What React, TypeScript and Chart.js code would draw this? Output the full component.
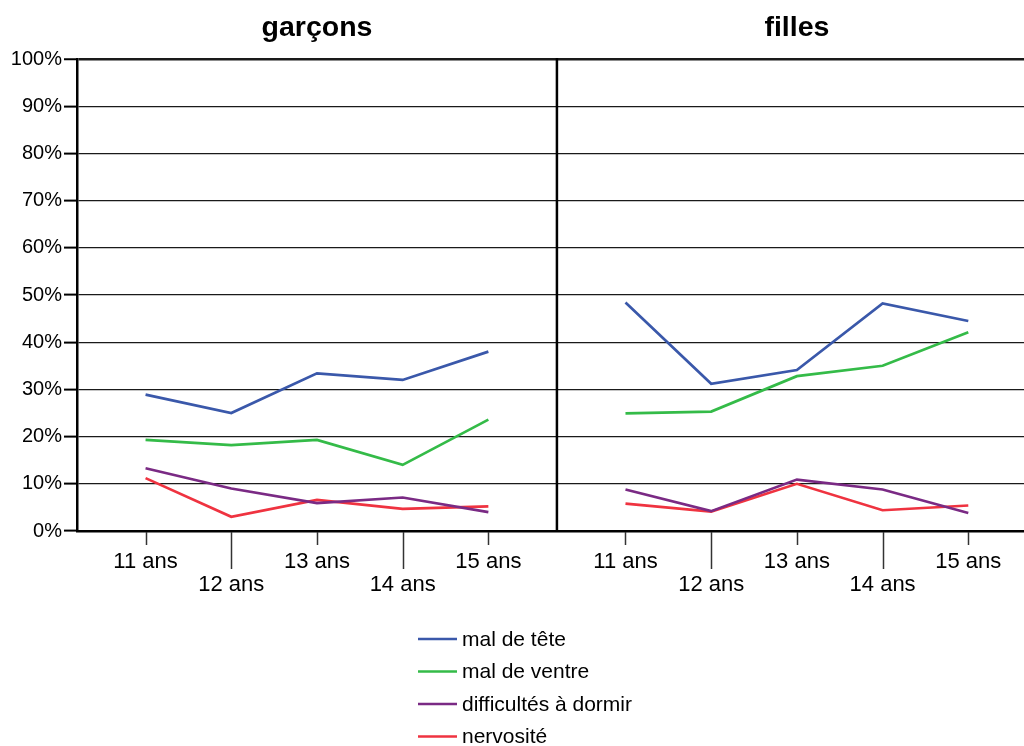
import React, { useEffect, useRef } from "react";
import { Chart, registerables } from "chart.js";

Chart.register(...registerables);

const categories = ["11 ans", "12 ans", "13 ans", "14 ans", "15 ans"];
const panelTitles = ["garçons", "filles"];
const seriesNames = ["mal de tête", "mal de ventre", "difficultés à dormir", "nervosité"];
const seriesColors = ["#3a58aa", "#34bb48", "#7a2a84", "#ef3340"];

const garconsMalDeTete = [28.9, 25.0, 33.4, 32.0, 38.0];
const garconsMalDeVentre = [19.3, 18.2, 19.3, 14.0, 23.6];
const garconsDormir = [13.3, 9.0, 5.9, 7.1, 4.0];
const garconsNervosite = [11.2, 3.0, 6.6, 4.7, 5.2];

const fillesMalDeTete = [48.4, 31.2, 34.1, 48.2, 44.5];
const fillesMalDeVentre = [24.9, 25.3, 32.8, 35.0, 42.1];
const fillesDormir = [8.8, 4.2, 10.9, 8.8, 3.8];
const fillesNervosite = [5.8, 4.1, 10.0, 4.4, 5.4];

const garconsSeries = [garconsMalDeTete, garconsMalDeVentre, garconsDormir, garconsNervosite];
const fillesSeries = [fillesMalDeTete, fillesMalDeVentre, fillesDormir, fillesNervosite];

// layout of the two panels on one linear x scale
const PANEL_MIN = -0.8;
const PANEL_DIVIDER = 4.8;
const RIGHT_START = 5.6;
const X_MAX = 10.25;

const FONT = '"Liberation Sans", Arial, Helvetica, sans-serif';

const tickPositions = [
  ...categories.map((_, i) => i),
  ...categories.map((_, i) => RIGHT_START + i),
];

const panelPlugin = {
  id: "panelPlugin",
  afterDraw(chart: any) {
    const { ctx, chartArea, scales } = chart;
    const x = scales.x;
    ctx.save();
    // divider between panels
    const dx = x.getPixelForValue(PANEL_DIVIDER);
    ctx.strokeStyle = "#000";
    ctx.lineWidth = 2.5;
    ctx.beginPath();
    ctx.moveTo(dx, chartArea.top - 1);
    ctx.lineTo(dx, chartArea.bottom);
    ctx.stroke();

    // tick marks for staggered labels
    ctx.strokeStyle = "#333";
    ctx.lineWidth = 1.5;
    x.ticks.forEach((t: any, i: number) => {
      const ci = i % categories.length;
      const px = Math.round(x.getPixelForValue(t.value)) + 0.5;
      const len = ci % 2 === 1 ? 38 : 14;
      ctx.beginPath();
      ctx.moveTo(px, chartArea.bottom + 1);
      ctx.lineTo(px, chartArea.bottom + len);
      ctx.stroke();
    });

    // panel titles
    ctx.fillStyle = "#000";
    ctx.font = `bold 28.5px ${FONT}`;
    ctx.textAlign = "center";
    ctx.textBaseline = "middle";
    const centers = [2, RIGHT_START + 2];
    panelTitles.forEach((t, i) => {
      ctx.fillText(t, x.getPixelForValue(centers[i]), 28);
    });

    // legend (vertical list)
    ctx.font = `21px ${FONT}`;
    ctx.textAlign = "left";
    ctx.textBaseline = "middle";
    chart.data.datasets.forEach((ds: any, i: number) => {
      const y = 639 + i * 32.5;
      ctx.strokeStyle = ds.borderColor;
      ctx.lineWidth = 2.5;
      ctx.beginPath();
      ctx.moveTo(418, y);
      ctx.lineTo(457, y);
      ctx.stroke();
      ctx.fillStyle = "#000";
      ctx.fillText(ds.label, 462, y + 1);
    });
    ctx.restore();
  },
};

export default function App() {
  const canvasRef = useRef<HTMLCanvasElement | null>(null);

  useEffect(() => {
    if (!canvasRef.current) return;
    const datasets = seriesNames.map((name, s) => ({
      label: name,
      borderColor: seriesColors[s],
      backgroundColor: seriesColors[s],
      borderWidth: 2.7,
      pointRadius: 0,
      spanGaps: false,
      data: [
        ...categories.map((_, i) => ({ x: i, y: garconsSeries[s][i] })),
        { x: PANEL_DIVIDER, y: null },
        ...categories.map((_, i) => ({ x: RIGHT_START + i, y: fillesSeries[s][i] })),
      ],
    }));

    const chart = new Chart(canvasRef.current, {
      type: "line",
      data: { datasets: datasets as any },
      options: {
        responsive: false,
        animation: false,
        layout: { padding: { top: 59, left: 0, right: 0, bottom: 0 } },
        plugins: {
          legend: { display: false },
          tooltip: { enabled: false },
        },
        scales: {
          x: {
            type: "linear",
            min: PANEL_MIN,
            max: X_MAX,
            afterBuildTicks: (scale: any) => {
              scale.ticks = tickPositions.map((v) => ({ value: v }));
            },
            afterFit: (scale: any) => {
              scale.height = 215;
            },
            grid: {
              drawOnChartArea: false,
              drawTicks: true,
              tickLength: 14,
              color: "rgba(0,0,0,0)",
            },
            border: { display: true, color: "#000", width: 2.5 },
            ticks: {
              autoSkip: false,
              maxRotation: 0,
              padding: 5,
              color: "#000",
              font: { family: FONT, size: 22, lineHeight: 1.05 },
              callback: (_v: any, index: number) => {
                const ci = index % categories.length;
                return ci % 2 === 0 ? categories[ci] : ["", categories[ci]];
              },
            },
          },
          y: {
            min: 0,
            max: 100,
            afterFit: (scale: any) => {
              scale.width = 77;
            },
            grid: {
              color: "#1a1a1a",
              lineWidth: (ctx: any) => (ctx.tick && ctx.tick.value === 100 ? 2.5 : 1.2),
              drawTicks: true,
              tickLength: 13,
              tickColor: "#000",
              tickWidth: 2,
            },
            border: { display: true, color: "#000", width: 2.5 },
            ticks: {
              stepSize: 10,
              padding: 2,
              color: "#000",
              font: { family: FONT, size: 20 },
              callback: (v: any) => `${v}%`,
            },
          },
        },
      },
      plugins: [panelPlugin],
    });
    return () => chart.destroy();
  }, []);

  return (
    <div style={{ position: "absolute", left: 0, top: 0, width: 1024, height: 746, background: "#fff" }}>
      <canvas ref={canvasRef} width={1024} height={746} />
    </div>
  );
}
